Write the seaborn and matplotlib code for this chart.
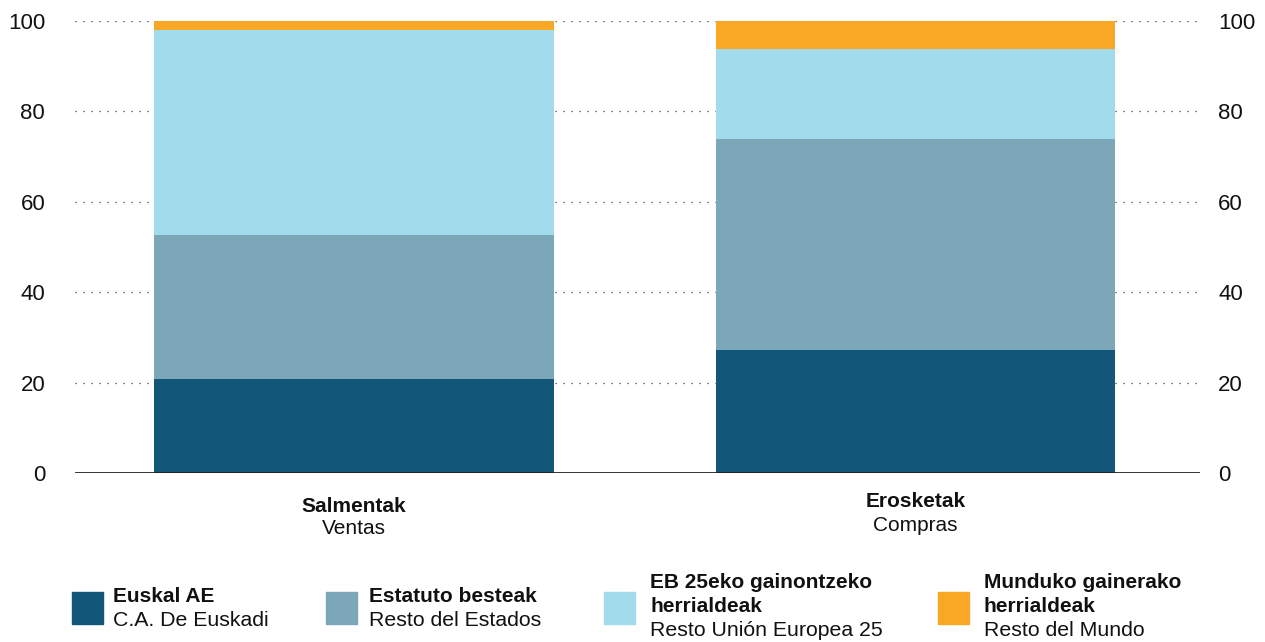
import pandas as pd
import matplotlib.pyplot as plt
import matplotlib.transforms as mtransforms
from matplotlib.patches import Rectangle
import seaborn as sns

# values (percent)
categories = ["Salmentak", "Erosketak"]
subtitles = ["Ventas", "Compras"]
euskal = [20.8, 27.2]
estatuto = [31.9, 46.7]
eb25 = [45.3, 19.9]
mundo = [2.0, 6.2]
yticks = [0, 20, 40, 60, 80, 100]

series_bold = ["Euskal AE", "Estatuto besteak", "EB 25eko gainontzeko\nherrialdeak", "Munduko gainerako\nherrialdeak"]
series_reg = ["C.A. De Euskadi", "Resto del Estados", "Resto Unión Europea 25", "Resto del Mundo"]
colors = ["#12567A", "#7BA7B8", "#A1DBEC", "#F9A825"]

sns.set_theme(style="white")
plt.rcParams['font.family'] = ['Liberation Sans', 'DejaVu Sans']

df = pd.DataFrame({"cat": categories, "euskal": euskal, "estatuto": estatuto,
                   "eb25": eb25, "mundo": mundo})
cols = ["euskal", "estatuto", "eb25", "mundo"]
cum = df[cols].cumsum(axis=1)

W, H = 1265, 642
fig = plt.figure(figsize=(W / 100, H / 100), dpi=100)
ax = fig.add_axes([75 / W, 1 - 473 / H, 1125 / W, 452 / H])

# stacked bars: draw the cumulative totals from the top down
for col, c in reversed(list(zip(cols, colors))):
    sns.barplot(x=df["cat"], y=cum[col], color=c, saturation=1, width=0.712,
                errorbar=None, ax=ax, zorder=2, linewidth=0)

ax.set_xlim(-0.497, 1.507)
ax.set_ylim(0, 100)
ax.set_yticks(yticks)
ax.set_xlabel("")
ax.set_ylabel("")
ax.set_xticks([])
for s in ax.spines.values():
    s.set_visible(False)
for t in yticks[1:]:
    ax.axhline(t, color="#444444", lw=0.9, linestyle=(0, (1, 5.4)), zorder=1)
ax.axhline(0, color="#222222", lw=2.0, zorder=5)
ax.tick_params(axis="y", length=0, pad=21.5, labelsize=16, labelcolor="#111111")

ax2 = ax.twinx()
ax2.set_ylim(0, 100)
ax2.set_yticks(yticks)
for s in ax2.spines.values():
    s.set_visible(False)
ax2.tick_params(axis="y", length=0, pad=13, labelsize=16, labelcolor="#111111")

# category labels under the bars
trans = mtransforms.blended_transform_factory(ax.transData, ax.transAxes)
label_y = [(-0.074, -0.123), (-0.063, -0.116)]
for i, (b, r) in enumerate(zip(categories, subtitles)):
    yb, yr = label_y[i]
    ax.text(i, yb, b, transform=trans, ha="center", va="center",
            fontsize=15, fontweight="bold", color="#111111")
    ax.text(i, yr, r, transform=trans, ha="center", va="center",
            fontsize=15, color="#111111")

# legend built by hand (bold + regular lines)
sq_x = [72, 326, 604, 938]
tx_x = [113, 369, 650, 984]
for b, r, c, sx, tx in zip(series_bold, series_reg, colors, sq_x, tx_x):
    fig.patches.append(Rectangle((sx / W, 1 - 624 / H), 31 / W, 32 / H,
                                 transform=fig.transFigure, color=c))
    nlines = b.count("\n") + 1
    top = 596 if nlines == 1 else 583
    for k, line in enumerate(b.split("\n")):
        fig.text(tx / W, 1 - (top + 24 * k) / H, line, ha="left", va="center",
                 fontsize=15, fontweight="bold", color="#111111")
    fig.text(tx / W, 1 - (top + 24 * nlines) / H, r, ha="left", va="center",
             fontsize=15.3, color="#111111")

fig.savefig("out.png", dpi=100)
